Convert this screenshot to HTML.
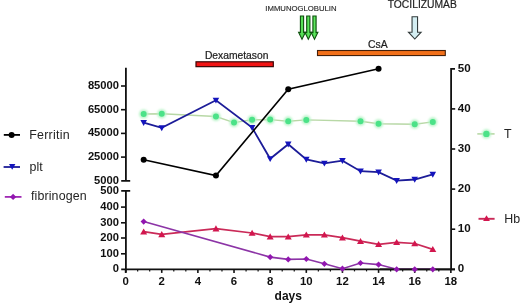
<!DOCTYPE html>
<html><head><meta charset="utf-8"><style>
html,body{margin:0;padding:0;background:#fff;overflow:hidden}
svg{display:block;font-family:"Liberation Sans",sans-serif;filter:blur(0.3px)}
</style></head><body>
<svg width="520" height="303" viewBox="0 0 520 303"><defs><filter id="glow" x="-1" y="-1" width="3" height="3"><feGaussianBlur stdDeviation="0.9"/></filter><filter id="soft" x="-0.2" y="-0.2" width="1.4" height="1.4"><feGaussianBlur stdDeviation="0.35"/></filter><filter id="soft2" x="-1" y="-1" width="3" height="3"><feGaussianBlur stdDeviation="0.75"/></filter></defs><rect width="520" height="303" fill="#fff"/><text x="265.3" y="11.3" font-size="7.9" fill="#2a2a2a" stroke="#2a2a2a" stroke-width="0.15" textLength="71.3" lengthAdjust="spacingAndGlyphs">IMMUNOGLOBULIN</text><text x="387.7" y="7.8" font-size="10.8" fill="#1e1e1e" stroke="#1e1e1e" stroke-width="0.2" textLength="69.2" lengthAdjust="spacingAndGlyphs">TOCILIZUMAB</text><defs><linearGradient id="gg" x1="0" x2="1" y1="0" y2="0"><stop offset="0" stop-color="#2fb62f"/><stop offset="0.5" stop-color="#5ee65e"/><stop offset="1" stop-color="#2fb62f"/></linearGradient></defs><path d="M300.4,16.0L303.6,16.0L303.6,32.4L305.4,32.4L302.0,39.3L298.6,32.4L300.4,32.4Z" fill="url(#gg)" stroke="#0f500f" stroke-width="1.1" stroke-linejoin="miter"/><path d="M306.7,16.0L309.90000000000003,16.0L309.90000000000003,32.4L311.7,32.4L308.3,39.3L304.90000000000003,32.4L306.7,32.4Z" fill="url(#gg)" stroke="#0f500f" stroke-width="1.1" stroke-linejoin="miter"/><path d="M312.9,16.0L316.1,16.0L316.1,32.4L317.9,32.4L314.5,39.3L311.1,32.4L312.9,32.4Z" fill="url(#gg)" stroke="#0f500f" stroke-width="1.1" stroke-linejoin="miter"/><path d="M412.05,16.7L417.55,16.7L417.55,32.2L421.1,32.2L414.8,39.0L408.5,32.2L412.05,32.2Z" fill="#d4eef2" stroke="#333c3c" stroke-width="1.1"/><text x="204.9" y="58.6" font-size="10.3" fill="#1e1e1e" stroke="#1e1e1e" stroke-width="0.22">Dexametason</text><rect x="196.0" y="61.8" width="77.3" height="4.85" fill="#f21414" stroke="#3a0606" stroke-width="1.2"/><text x="368.1" y="47.5" font-size="10.4" fill="#1e1e1e" stroke="#1e1e1e" stroke-width="0.22">CsA</text><rect x="317.5" y="50.5" width="127.8" height="5.05" fill="#f2701a" stroke="#45200a" stroke-width="1.1"/><path d="M125.9,67.8V180.8M121.2,180.8H130.2" stroke="#111" stroke-width="1.8" fill="none"/><path d="M121,86H125.9" stroke="#111" stroke-width="1.6"/><text x="119.0" y="89.0" font-size="11.2" font-weight="bold" fill="#111" text-anchor="end">85000</text><path d="M121,109.7H125.9" stroke="#111" stroke-width="1.6"/><text x="119.0" y="112.7" font-size="11.2" font-weight="bold" fill="#111" text-anchor="end">65000</text><path d="M121,133.4H125.9" stroke="#111" stroke-width="1.6"/><text x="119.0" y="136.4" font-size="11.2" font-weight="bold" fill="#111" text-anchor="end">45000</text><path d="M121,157.1H125.9" stroke="#111" stroke-width="1.6"/><text x="119.0" y="160.1" font-size="11.2" font-weight="bold" fill="#111" text-anchor="end">25000</text><text x="119.0" y="183.9" font-size="11.2" font-weight="bold" fill="#111" text-anchor="end">5000</text><path d="M121.2,190.8H130.2M125.9,190.8V272.8" stroke="#111" stroke-width="1.8" fill="none"/><text x="119.0" y="194.3" font-size="11.2" font-weight="bold" fill="#111" text-anchor="end">500</text><path d="M121,207.1H125.9" stroke="#111" stroke-width="1.6"/><text x="119.0" y="210.1" font-size="11.2" font-weight="bold" fill="#111" text-anchor="end">400</text><path d="M121,222.8H125.9" stroke="#111" stroke-width="1.6"/><text x="119.0" y="225.8" font-size="11.2" font-weight="bold" fill="#111" text-anchor="end">300</text><path d="M121,238.0H125.9" stroke="#111" stroke-width="1.6"/><text x="119.0" y="241.0" font-size="11.2" font-weight="bold" fill="#111" text-anchor="end">200</text><path d="M121,253.8H125.9" stroke="#111" stroke-width="1.6"/><text x="119.0" y="256.8" font-size="11.2" font-weight="bold" fill="#111" text-anchor="end">100</text><text x="119.0" y="272.3" font-size="11.2" font-weight="bold" fill="#111" text-anchor="end">0</text><path d="M121.2,269.3H455" stroke="#111" stroke-width="1.8"/><path d="M125.60,269.3V272.9" stroke="#111" stroke-width="1.6"/><text x="125.60" y="285.2" font-size="11.4" font-weight="bold" fill="#111" text-anchor="middle">0</text><path d="M161.74,269.3V272.9" stroke="#111" stroke-width="1.6"/><text x="161.74" y="285.2" font-size="11.4" font-weight="bold" fill="#111" text-anchor="middle">2</text><path d="M197.88,269.3V272.9" stroke="#111" stroke-width="1.6"/><text x="197.88" y="285.2" font-size="11.4" font-weight="bold" fill="#111" text-anchor="middle">4</text><path d="M234.02,269.3V272.9" stroke="#111" stroke-width="1.6"/><text x="234.02" y="285.2" font-size="11.4" font-weight="bold" fill="#111" text-anchor="middle">6</text><path d="M270.16,269.3V272.9" stroke="#111" stroke-width="1.6"/><text x="270.16" y="285.2" font-size="11.4" font-weight="bold" fill="#111" text-anchor="middle">8</text><path d="M306.30,269.3V272.9" stroke="#111" stroke-width="1.6"/><text x="306.30" y="285.2" font-size="11.4" font-weight="bold" fill="#111" text-anchor="middle">10</text><path d="M342.44,269.3V272.9" stroke="#111" stroke-width="1.6"/><text x="342.44" y="285.2" font-size="11.4" font-weight="bold" fill="#111" text-anchor="middle">12</text><path d="M378.58,269.3V272.9" stroke="#111" stroke-width="1.6"/><text x="378.58" y="285.2" font-size="11.4" font-weight="bold" fill="#111" text-anchor="middle">14</text><path d="M414.72,269.3V272.9" stroke="#111" stroke-width="1.6"/><text x="414.72" y="285.2" font-size="11.4" font-weight="bold" fill="#111" text-anchor="middle">16</text><path d="M450.86,269.3V272.9" stroke="#111" stroke-width="1.6"/><text x="450.86" y="285.2" font-size="11.4" font-weight="bold" fill="#111" text-anchor="middle">18</text><path d="M137.65,269.3V271.4" stroke="#111" stroke-width="1.2"/><path d="M149.69,269.3V271.4" stroke="#111" stroke-width="1.2"/><path d="M173.79,269.3V271.4" stroke="#111" stroke-width="1.2"/><path d="M185.83,269.3V271.4" stroke="#111" stroke-width="1.2"/><path d="M209.93,269.3V271.4" stroke="#111" stroke-width="1.2"/><path d="M221.97,269.3V271.4" stroke="#111" stroke-width="1.2"/><path d="M246.07,269.3V271.4" stroke="#111" stroke-width="1.2"/><path d="M258.11,269.3V271.4" stroke="#111" stroke-width="1.2"/><path d="M282.21,269.3V271.4" stroke="#111" stroke-width="1.2"/><path d="M294.25,269.3V271.4" stroke="#111" stroke-width="1.2"/><path d="M318.35,269.3V271.4" stroke="#111" stroke-width="1.2"/><path d="M330.39,269.3V271.4" stroke="#111" stroke-width="1.2"/><path d="M354.49,269.3V271.4" stroke="#111" stroke-width="1.2"/><path d="M366.53,269.3V271.4" stroke="#111" stroke-width="1.2"/><path d="M390.63,269.3V271.4" stroke="#111" stroke-width="1.2"/><path d="M402.67,269.3V271.4" stroke="#111" stroke-width="1.2"/><path d="M426.77,269.3V271.4" stroke="#111" stroke-width="1.2"/><path d="M438.81,269.3V271.4" stroke="#111" stroke-width="1.2"/><text x="274.6" y="300.1" font-size="12" font-weight="bold" fill="#111">days</text><path d="M455,68.8H451.1V269.3" stroke="#111" stroke-width="1.8" fill="none"/><text x="457.7" y="71.7" font-size="11.6" font-weight="bold" fill="#111">50</text><path d="M451.1,108.9H455.2" stroke="#111" stroke-width="1.6"/><text x="457.7" y="111.8" font-size="11.6" font-weight="bold" fill="#111">40</text><path d="M451.1,149.0H455.2" stroke="#111" stroke-width="1.6"/><text x="457.7" y="151.9" font-size="11.6" font-weight="bold" fill="#111">30</text><path d="M451.1,189.1H455.2" stroke="#111" stroke-width="1.6"/><text x="457.7" y="192.0" font-size="11.6" font-weight="bold" fill="#111">20</text><path d="M451.1,229.2H455.2" stroke="#111" stroke-width="1.6"/><text x="457.7" y="232.1" font-size="11.6" font-weight="bold" fill="#111">10</text><text x="457.7" y="272.2" font-size="11.6" font-weight="bold" fill="#111">0</text><polyline points="143.67,114.00 161.74,113.80 215.95,116.50 234.02,122.60 252.09,119.80 270.16,119.60 288.23,121.20 306.30,119.90 360.51,121.20 378.58,123.80 414.72,124.20 432.79,121.90" fill="none" stroke="#b8d8a6" stroke-width="1.4"/><circle cx="143.67" cy="114" r="4.6" fill="#b8f4c8" filter="url(#glow)"/><circle cx="143.67" cy="114" r="3.0" fill="#4ce288" filter="url(#soft2)"/><circle cx="161.74" cy="113.8" r="4.6" fill="#b8f4c8" filter="url(#glow)"/><circle cx="161.74" cy="113.8" r="3.0" fill="#4ce288" filter="url(#soft2)"/><circle cx="215.95" cy="116.5" r="4.6" fill="#b8f4c8" filter="url(#glow)"/><circle cx="215.95" cy="116.5" r="3.0" fill="#4ce288" filter="url(#soft2)"/><circle cx="234.02" cy="122.6" r="4.6" fill="#b8f4c8" filter="url(#glow)"/><circle cx="234.02" cy="122.6" r="3.0" fill="#4ce288" filter="url(#soft2)"/><circle cx="252.09" cy="119.8" r="4.6" fill="#b8f4c8" filter="url(#glow)"/><circle cx="252.09" cy="119.8" r="3.0" fill="#4ce288" filter="url(#soft2)"/><circle cx="270.16" cy="119.6" r="4.6" fill="#b8f4c8" filter="url(#glow)"/><circle cx="270.16" cy="119.6" r="3.0" fill="#4ce288" filter="url(#soft2)"/><circle cx="288.23" cy="121.2" r="4.6" fill="#b8f4c8" filter="url(#glow)"/><circle cx="288.23" cy="121.2" r="3.0" fill="#4ce288" filter="url(#soft2)"/><circle cx="306.30" cy="119.9" r="4.6" fill="#b8f4c8" filter="url(#glow)"/><circle cx="306.30" cy="119.9" r="3.0" fill="#4ce288" filter="url(#soft2)"/><circle cx="360.51" cy="121.2" r="4.6" fill="#b8f4c8" filter="url(#glow)"/><circle cx="360.51" cy="121.2" r="3.0" fill="#4ce288" filter="url(#soft2)"/><circle cx="378.58" cy="123.8" r="4.6" fill="#b8f4c8" filter="url(#glow)"/><circle cx="378.58" cy="123.8" r="3.0" fill="#4ce288" filter="url(#soft2)"/><circle cx="414.72" cy="124.2" r="4.6" fill="#b8f4c8" filter="url(#glow)"/><circle cx="414.72" cy="124.2" r="3.0" fill="#4ce288" filter="url(#soft2)"/><circle cx="432.79" cy="121.9" r="4.6" fill="#b8f4c8" filter="url(#glow)"/><circle cx="432.79" cy="121.9" r="3.0" fill="#4ce288" filter="url(#soft2)"/><polyline points="143.67,122.60 161.74,127.90 215.95,100.30 252.09,127.60 270.16,158.80 288.23,144.20 306.30,159.50 324.37,163.30 342.44,160.70 360.51,171.20 378.58,172.10 396.65,180.60 414.72,179.50 432.79,174.40" fill="none" stroke="#1c1c98" stroke-width="1.8"/><g fill="#1414bc"><path d="M140.37,119.96L146.97,119.96L143.67,125.90Z"/><path d="M158.44,125.26L165.04,125.26L161.74,131.20Z"/><path d="M212.65,97.66L219.25,97.66L215.95,103.60Z"/><path d="M248.79,124.96L255.39,124.96L252.09,130.90Z"/><path d="M266.86,156.16L273.46,156.16L270.16,162.10Z"/><path d="M284.93,141.56L291.53,141.56L288.23,147.50Z"/><path d="M303.00,156.86L309.60,156.86L306.30,162.80Z"/><path d="M321.07,160.66L327.67,160.66L324.37,166.60Z"/><path d="M339.14,158.06L345.74,158.06L342.44,164.00Z"/><path d="M357.21,168.56L363.81,168.56L360.51,174.50Z"/><path d="M375.28,169.46L381.88,169.46L378.58,175.40Z"/><path d="M393.35,177.96L399.95,177.96L396.65,183.90Z"/><path d="M411.42,176.86L418.02,176.86L414.72,182.80Z"/><path d="M429.49,171.76L436.09,171.76L432.79,177.70Z"/></g><polyline points="143.67,159.80 215.95,175.60 288.23,89.30 378.58,68.80" fill="none" stroke="#000" stroke-width="1.6"/><circle cx="143.67" cy="159.8" r="3.0" fill="#000"/><circle cx="215.95" cy="175.6" r="3.0" fill="#000"/><circle cx="288.23" cy="89.3" r="3.0" fill="#000"/><circle cx="378.58" cy="68.8" r="3.0" fill="#000"/><polyline points="143.67,231.70 161.74,234.40 215.95,228.60 252.09,233.00 270.16,236.60 288.23,236.70 306.30,234.80 324.37,234.80 342.44,237.70 360.51,241.20 378.58,244.30 396.65,242.30 414.72,243.50 432.79,249.30" fill="none" stroke="#ca2a58" stroke-width="1.75"/><g fill="#d2164e"><path d="M140.17,234.50L147.17,234.50L143.67,228.38Z"/><path d="M158.24,237.20L165.24,237.20L161.74,231.08Z"/><path d="M212.45,231.40L219.45,231.40L215.95,225.28Z"/><path d="M248.59,235.80L255.59,235.80L252.09,229.68Z"/><path d="M266.66,239.40L273.66,239.40L270.16,233.28Z"/><path d="M284.73,239.50L291.73,239.50L288.23,233.38Z"/><path d="M302.80,237.60L309.80,237.60L306.30,231.48Z"/><path d="M320.87,237.60L327.87,237.60L324.37,231.48Z"/><path d="M338.94,240.50L345.94,240.50L342.44,234.38Z"/><path d="M357.01,244.00L364.01,244.00L360.51,237.88Z"/><path d="M375.08,247.10L382.08,247.10L378.58,240.98Z"/><path d="M393.15,245.10L400.15,245.10L396.65,238.98Z"/><path d="M411.22,246.30L418.22,246.30L414.72,240.18Z"/><path d="M429.29,252.10L436.29,252.10L432.79,245.98Z"/></g><polyline points="143.67,221.60 270.16,257.10 288.23,259.40 306.30,259.00 324.37,263.80 342.44,268.70 360.51,263.00 378.58,264.60 396.65,269.30 414.72,269.30 432.79,269.30" fill="none" stroke="#8c34a6" stroke-width="1.6"/><path d="M380,269.3H455" stroke="#111" stroke-width="1.8"/><g fill="#9216b0"><path d="M143.67,218.50L146.77,221.60L143.67,224.70L140.57,221.60Z"/><path d="M270.16,254.00L273.26,257.10L270.16,260.20L267.06,257.10Z"/><path d="M288.23,256.30L291.33,259.40L288.23,262.50L285.13,259.40Z"/><path d="M306.30,255.90L309.40,259.00L306.30,262.10L303.20,259.00Z"/><path d="M324.37,260.70L327.47,263.80L324.37,266.90L321.27,263.80Z"/><path d="M342.44,265.60L345.54,268.70L342.44,271.80L339.34,268.70Z"/><path d="M360.51,259.90L363.61,263.00L360.51,266.10L357.41,263.00Z"/><path d="M378.58,261.50L381.68,264.60L378.58,267.70L375.48,264.60Z"/><path d="M396.65,266.20L399.75,269.30L396.65,272.40L393.55,269.30Z"/><path d="M414.72,266.20L417.82,269.30L414.72,272.40L411.62,269.30Z"/><path d="M432.79,266.20L435.89,269.30L432.79,272.40L429.69,269.30Z"/></g><path d="M3.8,134.9H20" stroke="#000" stroke-width="1.8"/><circle cx="11.6" cy="134.9" r="3.0" fill="#000"/><text x="29.2" y="138.6" font-size="12.4" fill="#242424" textLength="40.5" lengthAdjust="spacing">Ferritin</text><path d="M3.6,167H20" stroke="#1c1c98" stroke-width="1.8"/><g fill="#1414bc"><path d="M9.00,164.04L15.40,164.04L12.20,169.80Z"/></g><text x="29.5" y="170.8" font-size="12.4" fill="#242424">plt</text><path d="M4.8,196.9H21.5" stroke="#a02ab4" stroke-width="1.8"/><g fill="#9216b0"><path d="M13.10,193.80L16.20,196.90L13.10,200.00L10.00,196.90Z"/></g><text x="31" y="200.2" font-size="12.4" fill="#242424" textLength="55.6" lengthAdjust="spacing">fibrinogen</text><path d="M477.3,133.9H494.6" stroke="#b8d8a6" stroke-width="1.6"/><circle cx="486.4" cy="133.9" r="4.6" fill="#b4f4c6" filter="url(#glow)"/><circle cx="486.4" cy="133.9" r="3.2" fill="#4ce288" filter="url(#soft2)"/><text x="504" y="137.6" font-size="12.4" fill="#242424">T</text><path d="M478.5,218.8H494.6" stroke="#ca2a58" stroke-width="1.9"/><g fill="#d2164e"><path d="M483.10,221.12L489.90,221.12L486.50,215.17Z"/></g><text x="504.2" y="222.6" font-size="12.4" fill="#242424">Hb</text></svg>
</body></html>
